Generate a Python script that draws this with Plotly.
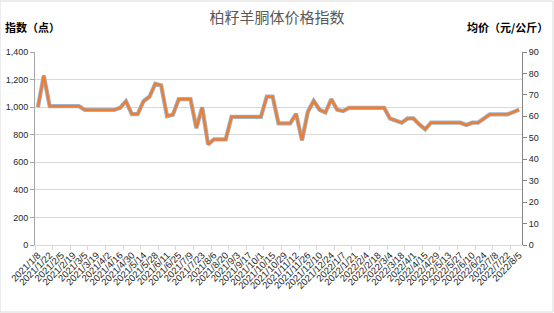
import plotly.graph_objects as go

dates = [
    "2021/1/8", "2021/1/15", "2021/1/22", "2021/1/29", "2021/2/5", "2021/2/12", "2021/2/19", "2021/2/26",
    "2021/3/5", "2021/3/12", "2021/3/19", "2021/3/26", "2021/4/2", "2021/4/9", "2021/4/16", "2021/4/23",
    "2021/4/30", "2021/5/7", "2021/5/14", "2021/5/21", "2021/5/28", "2021/6/4", "2021/6/11", "2021/6/18",
    "2021/6/25", "2021/7/2", "2021/7/9", "2021/7/16", "2021/7/23", "2021/7/30", "2021/8/6", "2021/8/13",
    "2021/8/20", "2021/8/27", "2021/9/3", "2021/9/10", "2021/9/17", "2021/9/24", "2021/10/1", "2021/10/8",
    "2021/10/15", "2021/10/22", "2021/10/29", "2021/11/5", "2021/11/12", "2021/11/19", "2021/11/26", "2021/12/3",
    "2021/12/10", "2021/12/17", "2021/12/24", "2021/12/31",
    "2022/1/7", "2022/1/14", "2022/1/21", "2022/1/28", "2022/2/4", "2022/2/11", "2022/2/18", "2022/2/25",
    "2022/3/4", "2022/3/11", "2022/3/18", "2022/3/25", "2022/4/1", "2022/4/8", "2022/4/15", "2022/4/22",
    "2022/4/29", "2022/5/6", "2022/5/13", "2022/5/20", "2022/5/27", "2022/6/3", "2022/6/10", "2022/6/17",
    "2022/6/24", "2022/7/1", "2022/7/8", "2022/7/15", "2022/7/22", "2022/7/29", "2022/8/5",
]

index_values = [
    1000, 1229, 1007, 1007, 1007, 1007, 1007, 1007, 980, 980, 980, 980, 980, 980,
    995, 1043, 950, 950, 1043, 1075, 1169, 1157, 935, 945, 1058, 1058, 1058,
    848, 998, 730, 766, 766, 766, 930, 930, 930, 930, 930, 930, 1077, 1077,
    882, 882, 882, 952, 759, 966, 1046, 981, 961, 1058, 981, 971,
    995, 995, 995, 995, 995, 995, 995, 918, 904, 887, 918, 918, 875, 839,
    887, 887, 887, 887, 887, 887, 870, 887, 887, 918, 947, 947, 947, 947, 964, 981,
]

price_values = [
    64.3, 79.0, 64.7, 64.7, 64.7, 64.7, 64.7, 64.7, 63.0, 63.0, 63.0, 63.0, 63.0, 63.0,
    64.0, 67.1, 61.1, 61.1, 67.1, 69.1, 75.2, 74.4, 60.1, 60.8, 68.0, 68.0, 68.0,
    54.5, 64.2, 46.9, 49.2, 49.2, 49.2, 59.8, 59.8, 59.8, 59.8, 59.8, 59.8, 69.2, 69.2,
    56.7, 56.7, 56.7, 61.2, 48.8, 62.1, 67.2, 63.1, 61.8, 68.0, 63.1, 62.4,
    64.0, 64.0, 64.0, 64.0, 64.0, 64.0, 64.0, 59.0, 58.1, 57.0, 59.0, 59.0, 56.3, 53.9,
    57.0, 57.0, 57.0, 57.0, 57.0, 57.0, 55.9, 57.0, 57.0, 59.0, 60.9, 60.9, 60.9, 60.9, 62.0, 63.1,
]

left_ticks = [0, 200, 400, 600, 800, 1000, 1200, 1400]
right_ticks = [0, 10, 20, 30, 40, 50, 60, 70, 80, 90]

n = len(dates)
tick_font = dict(family="Liberation Sans, Arial, sans-serif", size=9, color="#262626")
cjk = "Noto Sans CJK SC"

fig = go.Figure()
fig.add_trace(go.Scatter(
    x=dates, y=index_values, mode="lines", name="指数",
    line=dict(color="#9FB2C9", width=4.2), yaxis="y", xaxis="x",
))
fig.add_trace(go.Scatter(
    x=dates, y=price_values, mode="lines", name="均价",
    line=dict(color="#ED7D31", width=2.4), yaxis="y2", xaxis="x",
))
# helper invisible trace to anchor the tick-mark axis
fig.add_trace(go.Scatter(
    x=[-0.5, n - 0.5], y=[None, None], mode="lines", xaxis="x2", yaxis="y",
    showlegend=False, hoverinfo="skip",
))

fig.update_layout(
    width=554, height=313,
    margin=dict(l=35, r=32, t=52, b=68, autoexpand=False),
    paper_bgcolor="white", plot_bgcolor="white",
    showlegend=False,
    title=dict(text="柏籽羊胴体价格指数", x=0.5, xanchor="center", y=1 - 18 / 313, yanchor="middle",
               font=dict(family=cjk, size=15, color="#595959")),
    xaxis=dict(
        type="category", range=[-0.5, n - 0.5], automargin=False,
        tickmode="array", tickvals=dates[::2], ticktext=dates[::2],
        tickangle=-45, ticks="", tickfont=dict(family="Liberation Sans, Arial, sans-serif", size=9.5, color="#262626"),
        showline=True, linecolor="#D9D9D9", linewidth=1, showgrid=False, zeroline=False,
    ),
    xaxis2=dict(
        overlaying="x", anchor="y", side="bottom", range=[-0.5, n - 0.5], automargin=False,
        tickmode="array", tickvals=[-0.5 + 3 * k for k in range(n // 3 + 1)],
        ticks="outside", ticklen=4, tickcolor="#D9D9D9", showticklabels=False,
        showline=False, showgrid=False, zeroline=False,
    ),
    yaxis=dict(
        range=[0, 1400], tickmode="array", tickvals=left_ticks, tickformat=",", automargin=False,
        ticks="outside", ticklen=4, tickcolor="#A6A6A6", tickfont=tick_font,
        showline=True, linecolor="#A6A6A6", linewidth=1,
        showgrid=True, gridcolor="#D9D9D9", gridwidth=1, zeroline=False,
    ),
    yaxis2=dict(
        range=[0, 90], tickmode="array", tickvals=right_ticks, overlaying="y", side="right", automargin=False,
        ticks="outside", ticklen=4, tickcolor="#868686", tickfont=tick_font,
        showline=True, linecolor="#868686", linewidth=1, showgrid=False, zeroline=False,
    ),
    shapes=[dict(type="rect", xref="paper", yref="paper", x0=-35 / 487, x1=1 + 31 / 487,
                 y0=-67 / 193, y1=1 + 51 / 193, line=dict(color="#D9D9D9", width=1))],
    annotations=[
        dict(text="<b>指数（点）</b>", xref="paper", yref="paper", x=0, xshift=-32, xanchor="left",
             y=(245 - 27) / 193, yanchor="middle", showarrow=False,
             font=dict(family=cjk, size=11, color="#000000")),
        dict(text="<b>均价（元/公斤）</b>", xref="paper", yref="paper", x=1, xshift=28, xanchor="right",
             y=(245 - 27) / 193, yanchor="middle", showarrow=False,
             font=dict(family=cjk, size=11, color="#000000")),
    ],
)

fig.write_html("out.html")
